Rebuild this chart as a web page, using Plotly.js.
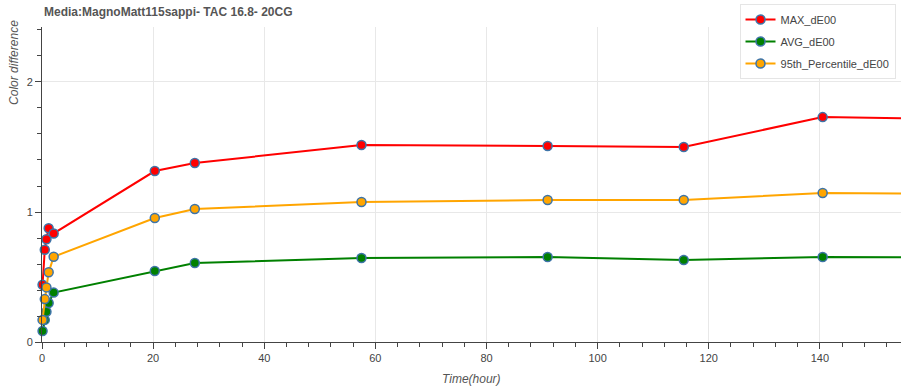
<!DOCTYPE html>
<html>
<head>
<meta charset="utf-8">
<script src="https://cdn.plot.ly/plotly-3.0.1.min.js"></script>
<style>html,body{margin:0;padding:0;background:#fff;}#chart{width:901px;height:388px;}</style>
</head>
<body>
<div id="chart"></div>
<script>
const timeHours = [0.1, 0.5, 0.8, 1.2, 2.1, 20.3, 27.5, 57.5, 91, 115.5, 140.5, 170];
const maxDE00 = [0.44, 0.71, 0.79, 0.875, 0.835, 1.315, 1.377, 1.515, 1.508, 1.50, 1.73, 1.71];
const avgDE00 = [0.085, 0.17, 0.233, 0.30, 0.38, 0.546, 0.608, 0.646, 0.654, 0.631, 0.654, 0.65];
const p95DE00 = [0.17, 0.33, 0.42, 0.536, 0.656, 0.954, 1.023, 1.077, 1.092, 1.092, 1.146, 1.14];
const seriesNames = ['MAX_dE00', 'AVG_dE00', '95th_Percentile_dE00'];
const seriesColors = ['#ff0000', '#008000', '#ffa500'];
const chartTitle = 'Media:MagnoMatt115sappi- TAC 16.8- 20CG';
const xTitle = 'Time(hour)';
const yTitle = 'Color difference';

const seriesValues = [maxDE00, avgDE00, p95DE00];
const traces = seriesValues.map((vals, i) => ({
  type: 'scatter',
  mode: 'lines+markers',
  x: timeHours,
  y: vals,
  name: seriesNames[i],
  legendgroup: 'g' + i,
  cliponaxis: false,
  line: {color: seriesColors[i], width: 2},
  marker: {color: seriesColors[i], size: 9, line: {color: '#3d74a8', width: 1.5}}
}));

const font = 'Liberation Sans, Arial, Helvetica, sans-serif';
const layout = {
  width: 901, height: 388,
  margin: {l: 42, r: 0, t: 27, b: 46, autoexpand: false},
  paper_bgcolor: '#ffffff', plot_bgcolor: '#ffffff',
  font: {family: font, size: 11, color: '#444'},
  showlegend: true,
  legend: {
    x: 0.812, y: 1.073, xanchor: 'left', yanchor: 'top',
    bgcolor: '#ffffff', bordercolor: '#e5e5e5', borderwidth: 1,
    font: {family: font, size: 11, color: '#444'},
    traceorder: 'grouped', tracegroupgap: 3
  },
  xaxis: {
    range: [0, 154.6], showline: true, linecolor: '#444', linewidth: 1,
    zeroline: false, showgrid: true, gridcolor: '#e8e8e8',
    tick0: 0, dtick: 20, ticks: 'outside', ticklen: 6, tickcolor: '#444',
    tickfont: {size: 11, color: '#444'},
    minor: {dtick: 4, ticks: 'outside', ticklen: 4, tickcolor: '#444', showgrid: false}
  },
  yaxis: {
    range: [0, 2.423], showline: true, linecolor: '#444', linewidth: 1,
    zeroline: false, showgrid: true, gridcolor: '#e8e8e8',
    tick0: 0, dtick: 1, ticks: 'outside', ticklen: 6, tickcolor: '#444',
    tickfont: {size: 11, color: '#444'},
    minor: {dtick: 0.2, ticks: 'outside', ticklen: 4, tickcolor: '#444', showgrid: false}
  },
  annotations: [
    {text: '<b>' + chartTitle + '</b>', xref: 'paper', yref: 'paper', x: 0, y: 1.0857, xanchor: 'left', yanchor: 'middle',
     yshift: -12, showarrow: false, font: {family: font, size: 12, color: '#555'}},
    {text: '<i>' + xTitle + '</i>', xref: 'paper', yref: 'paper', x: 0.5, y: 0, xanchor: 'center', yanchor: 'middle',
     yshift: -37, showarrow: false, font: {family: font, size: 12, color: '#555'}},
    {text: '<i>' + yTitle + '</i>', xref: 'paper', yref: 'paper', x: 0, y: 0.886, xanchor: 'center', yanchor: 'middle',
     xshift: -28, textangle: -90, showarrow: false, font: {family: font, size: 12, color: '#555'}}
  ]
};

Plotly.newPlot('chart', traces, layout, {displayModeBar: false, staticPlot: true});
</script>
</body>
</html>
